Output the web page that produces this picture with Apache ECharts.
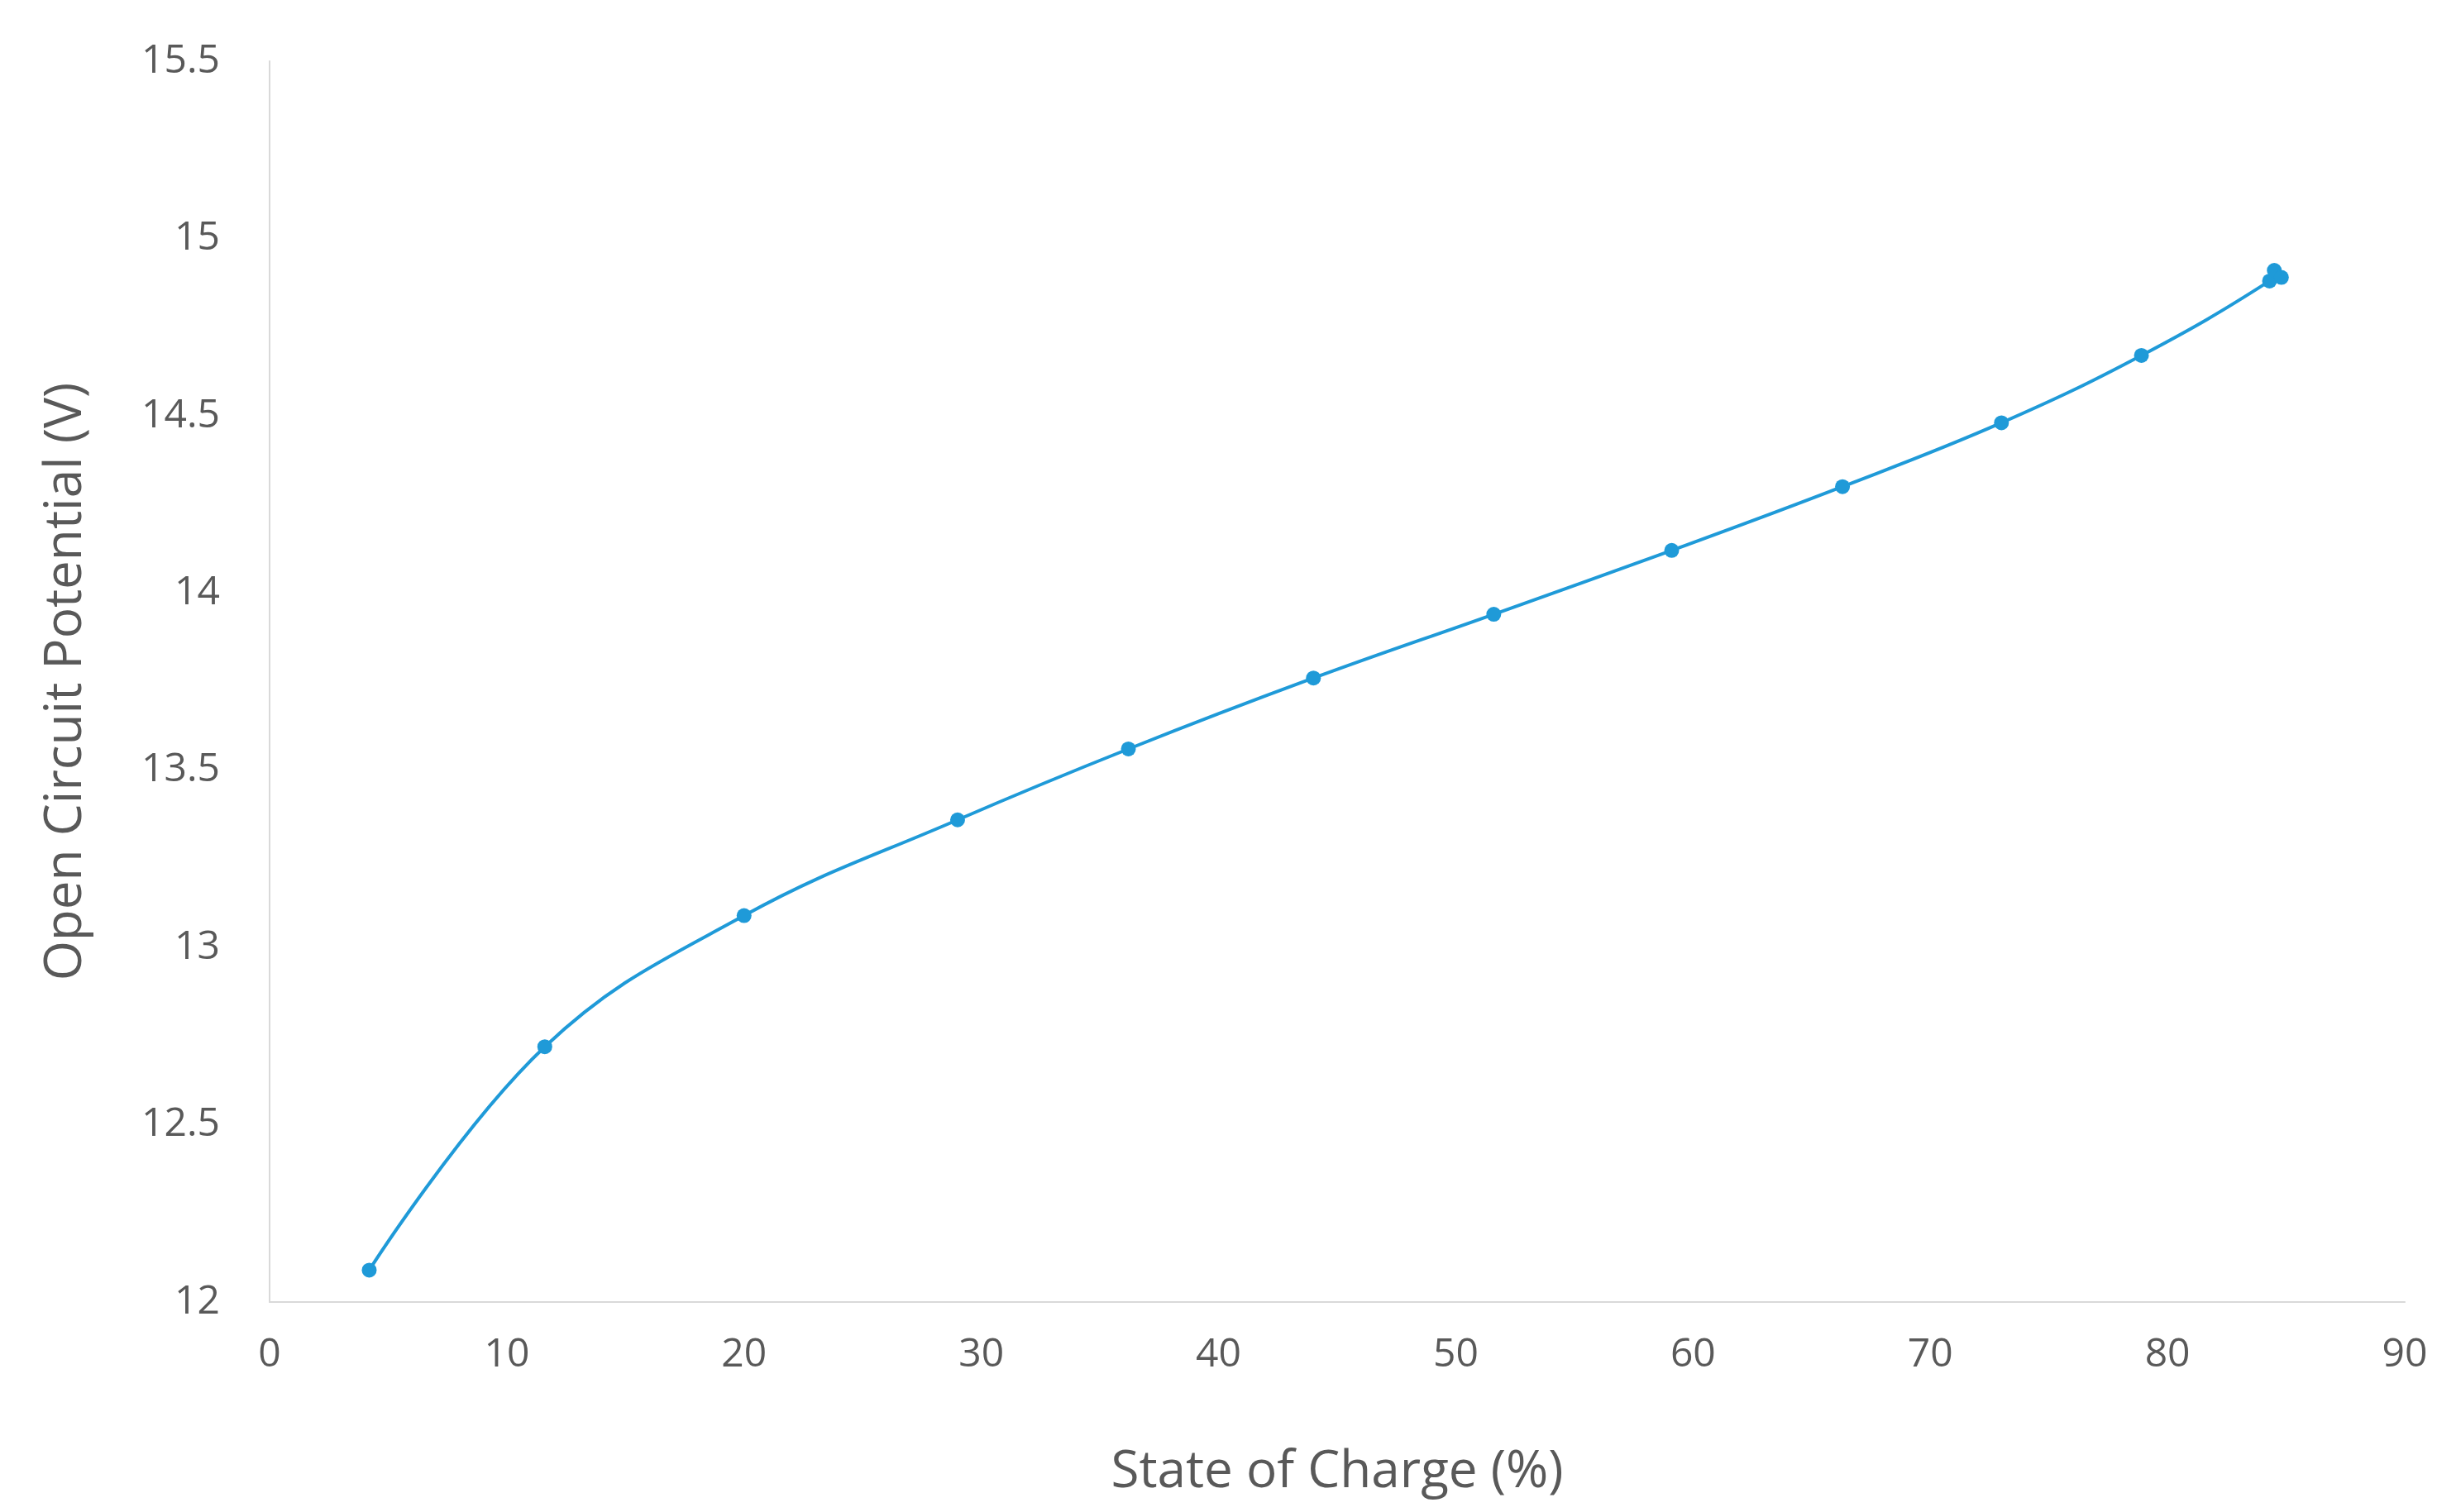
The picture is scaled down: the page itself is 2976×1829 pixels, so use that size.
<!DOCTYPE html><html><head><meta charset="utf-8">
<script src="https://cdn.jsdelivr.net/npm/echarts@6/dist/echarts.min.js"></script>
<style>html,body{margin:0;background:#fff}#c{width:2976px;height:1829px}</style></head><body><div id="c"></div>
<script>
const soc = [4.2, 11.6, 20.0, 29.0, 36.2, 44.0, 51.6, 59.1, 66.3, 73.0, 78.9, 84.3, 84.5, 84.8];
const ocv = [12.09, 12.72, 13.09, 13.36, 13.56, 13.76, 13.94, 14.12, 14.30, 14.48, 14.67, 14.88, 14.91, 14.89];
const data = soc.map((x, i) => [x, ocv[i]]);
const txt = '#595959', font = 'Open Sans';
const chart = echarts.init(document.getElementById('c'));
chart.setOption({
  animation: false,
  grid: {left: 326, right: 68, top: 74, bottom: 254},
  xAxis: {type: 'value', min: 0, max: 90, interval: 10,
    name: 'State of Charge (%)', nameLocation: 'middle', nameGap: 175,
    nameTextStyle: {color: txt, fontSize: 62, fontFamily: font},
    axisLine: {lineStyle: {color: '#d9d9d9', width: 2}}, axisTick: {show: false},
    axisLabel: {color: txt, fontSize: 48, fontFamily: font, margin: 40},
    splitLine: {show: false}},
  yAxis: {type: 'value', min: 12, max: 15.5, interval: 0.5,
    name: 'Open Circuit Potential (V)', nameLocation: 'middle', nameGap: 215,
    nameTextStyle: {color: txt, fontSize: 62, fontFamily: font},
    axisLine: {show: true, lineStyle: {color: '#d9d9d9', width: 2}}, axisTick: {show: false},
    axisLabel: {color: txt, fontSize: 48, fontFamily: font, margin: 60},
    splitLine: {show: false}},
  series: [{type: 'line', data: data, smooth: 0.4, symbol: 'circle', symbolSize: 18,
    lineStyle: {color: '#1f9ad8', width: 4}, itemStyle: {color: '#1f9ad8'}}]
});
</script></body></html>
